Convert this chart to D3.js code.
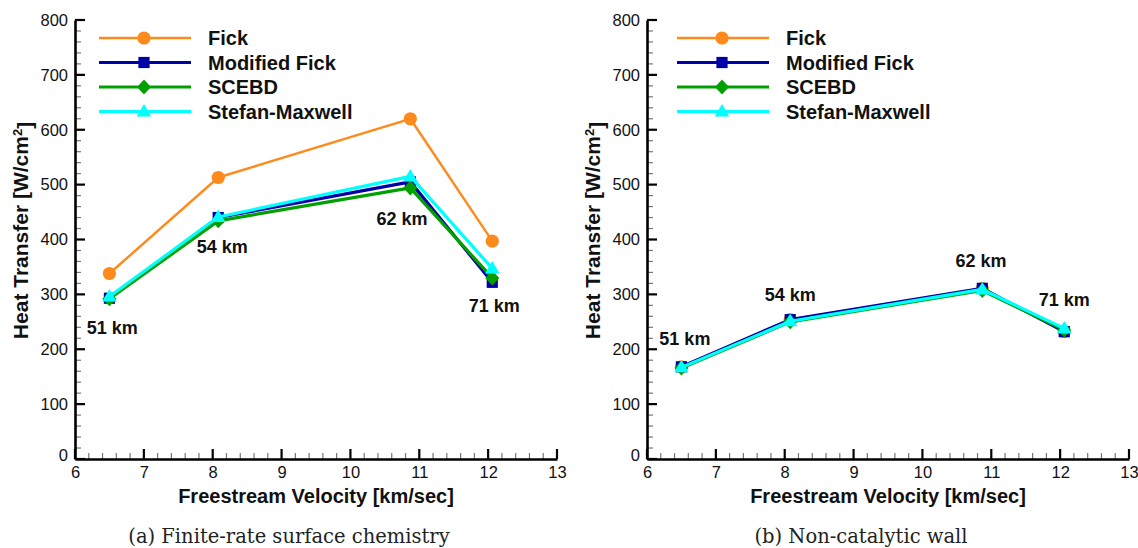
<!DOCTYPE html>
<html>
<head>
<meta charset="utf-8">
<script src="https://cdn.jsdelivr.net/npm/d3@7"></script>
<style>
body { margin: 0; background: #fff; }
svg { display: block; }
</style>
</head>
<body>
<svg id="chart" width="1138" height="548"></svg>
<script>
// freestream velocity of the four trajectory points [km/sec]
var velocity = [6.5, 8.08, 10.87, 12.06];
var altitude = ["51 km", "54 km", "62 km", "71 km"];

// (a) finite-rate surface chemistry, heat transfer [W/cm2]
var fickA = [338, 513, 620, 397];
var modFickA = [293, 440, 505, 322];
var scebdA = [292, 434, 494, 330];
var stefanA = [296, 441, 515, 347];

// (b) non-catalytic wall
var fickB = [168, 254, 311, 232];
var modFickB = [168, 254, 311, 232];
var scebdB = [166, 250, 307, 235];
var stefanB = [167, 251, 309, 238];

// altitude label anchors, in data units (velocity, heat transfer)
var labelVelA = [6.54, 8.14, 10.75, 12.09];
var labelHeatA = [239, 386, 437, 280];
var labelVelB = [6.55, 8.08, 10.85, 12.06];
var labelHeatB = [219, 300, 361, 290];

var xTicks = [6, 7, 8, 9, 10, 11, 12, 13];
var yTicks = [0, 100, 200, 300, 400, 500, 600, 700, 800];
var xMinor = [6.2, 6.4, 6.6, 6.8, 7.2, 7.4, 7.6, 7.8, 8.2, 8.4, 8.6, 8.8, 9.2, 9.4, 9.6, 9.8,
	10.2, 10.4, 10.6, 10.8, 11.2, 11.4, 11.6, 11.8, 12.2, 12.4, 12.6, 12.8];
var yMinor = d3.range(0, 801, 20).filter(function(d) { return d % 100 != 0; });

var seriesNames = ["Fick", "Modified Fick", "SCEBD", "Stefan-Maxwell"];
var seriesColors = ["#ff8a1c", "#0000a8", "#00a000", "#00ffff"];
var lineWidths = [2.4, 3.2, 3.2, 3.2];

var svg = d3.select("#chart");
var W = 482, H = 439;
var sans = "Liberation Sans, Arial, sans-serif";

// marker shapes: circle, square, diamond (rotated square), triangle
function marker(sel, s) {
	if (s === 0) {
		sel.append("circle").attr("r", 6.6).attr("fill", seriesColors[s]);
	} else if (s === 1) {
		sel.append("rect").attr("x", -5.6).attr("y", -5.6).attr("width", 11.2).attr("height", 11.2).attr("fill", seriesColors[s]);
	} else if (s === 2) {
		sel.append("path").attr("d", "M0,-7.5L7,0L0,7.5L-7,0Z").attr("fill", seriesColors[s]);
	} else {
		sel.append("path").attr("d", "M0,-7.5L7.2,5L-7.2,5Z").attr("fill", seriesColors[s]);
	}
}

function drawPanel(ox, oy, series, labVel, labHeat, caption, legX) {
	var g = svg.append("g").attr("transform", "translate(" + ox + "," + oy + ")");
	var x = d3.scaleLinear().domain([6, 13]).range([0, W]);
	var y = d3.scaleLinear().domain([0, 800]).range([H, 0]);

	// inward ticks, minor then major
	g.selectAll(".ymin").data(yMinor).enter().append("line")
		.attr("x1", 0).attr("x2", 6).attr("y1", y).attr("y2", y)
		.attr("stroke", "#777").attr("stroke-width", 1.2);
	g.selectAll(".xmin").data(xMinor).enter().append("line")
		.attr("x1", x).attr("x2", x).attr("y1", H).attr("y2", H - 6)
		.attr("stroke", "#777").attr("stroke-width", 1.2);
	g.selectAll(".ymaj").data(yTicks).enter().append("line")
		.attr("x1", 0).attr("x2", 10).attr("y1", y).attr("y2", y)
		.attr("stroke", "#000").attr("stroke-width", 2.2);
	g.selectAll(".xmaj").data(xTicks).enter().append("line")
		.attr("x1", x).attr("x2", x).attr("y1", H).attr("y2", H - 10)
		.attr("stroke", "#000").attr("stroke-width", 2.2);

	// axis lines and labels
	var yAxis = g.append("g")
		.call(d3.axisLeft(y).tickValues(yTicks).tickSize(0).tickPadding(7));
	var xAxis = g.append("g").attr("transform", "translate(0," + H + ")")
		.call(d3.axisBottom(x).tickValues(xTicks).tickFormat(d3.format("d")).tickSize(0).tickPadding(5));
	[xAxis, yAxis].forEach(function(a) {
		a.select(".domain").attr("stroke", "#000").attr("stroke-width", 2.6);
		a.selectAll("text").attr("font-family", sans).attr("font-size", 16.5).attr("fill", "#111");
	});
	xAxis.selectAll("text").attr("dy", "0.85em");
	yAxis.selectAll(".tick").filter(function(d) { return d === 0; }).select("text").attr("dy", "0.1em");

	// series
	var line = d3.line()
		.x(function(d, i) { return x(velocity[i]); })
		.y(function(d) { return y(d); });
	series.forEach(function(vals, s) {
		g.append("path")
			.datum(vals)
			.attr("fill", "none")
			.attr("stroke", seriesColors[s])
			.attr("stroke-width", lineWidths[s])
			.attr("stroke-linejoin", "round")
			.attr("d", line);
		g.selectAll(".m" + s)
			.data(vals)
			.enter().append("g")
			.attr("class", "m" + s)
			.attr("transform", function(d, i) { return "translate(" + x(velocity[i]) + "," + y(d) + ")"; })
			.each(function() { marker(d3.select(this), s); });
	});

	// altitude labels
	g.selectAll(".alt")
		.data(altitude)
		.enter().append("text")
		.attr("x", function(d, i) { return x(labVel[i]); })
		.attr("y", function(d, i) { return y(labHeat[i]); })
		.attr("dy", "0.35em")
		.attr("text-anchor", "middle")
		.attr("font-family", sans)
		.attr("font-weight", "bold")
		.attr("font-size", 18)
		.attr("fill", "#111")
		.text(function(d) { return d; });

	// legend
	var leg = g.append("g").attr("transform", "translate(" + legX + ",18)");
	seriesNames.forEach(function(name, s) {
		var row = leg.append("g").attr("transform", "translate(0," + (s * 24.5) + ")");
		row.append("line").attr("x1", 0).attr("x2", 92).attr("y1", 0).attr("y2", 0)
			.attr("stroke", seriesColors[s]).attr("stroke-width", lineWidths[s]);
		marker(row.append("g").attr("transform", "translate(45,0)"), s);
		row.append("text").attr("x", 109).attr("y", 0).attr("dy", "0.36em")
			.attr("font-family", sans)
			.attr("font-weight", "bold").attr("font-size", 20).attr("fill", "#111")
			.text(name);
	});

	// axis titles
	g.append("text")
		.attr("x", W / 2).attr("y", H + 44)
		.attr("text-anchor", "middle")
		.attr("font-family", sans)
		.attr("font-weight", "bold").attr("font-size", 20).attr("fill", "#111")
		.text("Freestream Velocity [km/sec]");
	var yt = g.append("text")
		.attr("transform", "translate(-47," + (H / 2 - 9) + ") rotate(-90)")
		.attr("text-anchor", "middle")
		.attr("font-family", sans)
		.attr("font-weight", "bold").attr("font-size", 21).attr("fill", "#111");
	yt.append("tspan").text("Heat Transfer [W/cm");
	yt.append("tspan").attr("dy", "-0.5em").attr("font-size", 13).text("2");
	yt.append("tspan").attr("dy", "0.5em").text("]");

	// caption
	g.append("text")
		.attr("x", W / 2 - 27).attr("y", H + 84)
		.attr("text-anchor", "middle")
		.attr("font-family", "DejaVu Serif, Liberation Serif, serif")
		.attr("font-size", 19.5).attr("fill", "#222")
		.text(caption);
}

drawPanel(75, 20, [fickA, modFickA, scebdA, stefanA], labelVelA, labelHeatA, "(a) Finite-rate surface chemistry", 24);
drawPanel(647, 20, [fickB, modFickB, scebdB, stefanB], labelVelB, labelHeatB, "(b) Non-catalytic wall", 30);
</script>
</body>
</html>
